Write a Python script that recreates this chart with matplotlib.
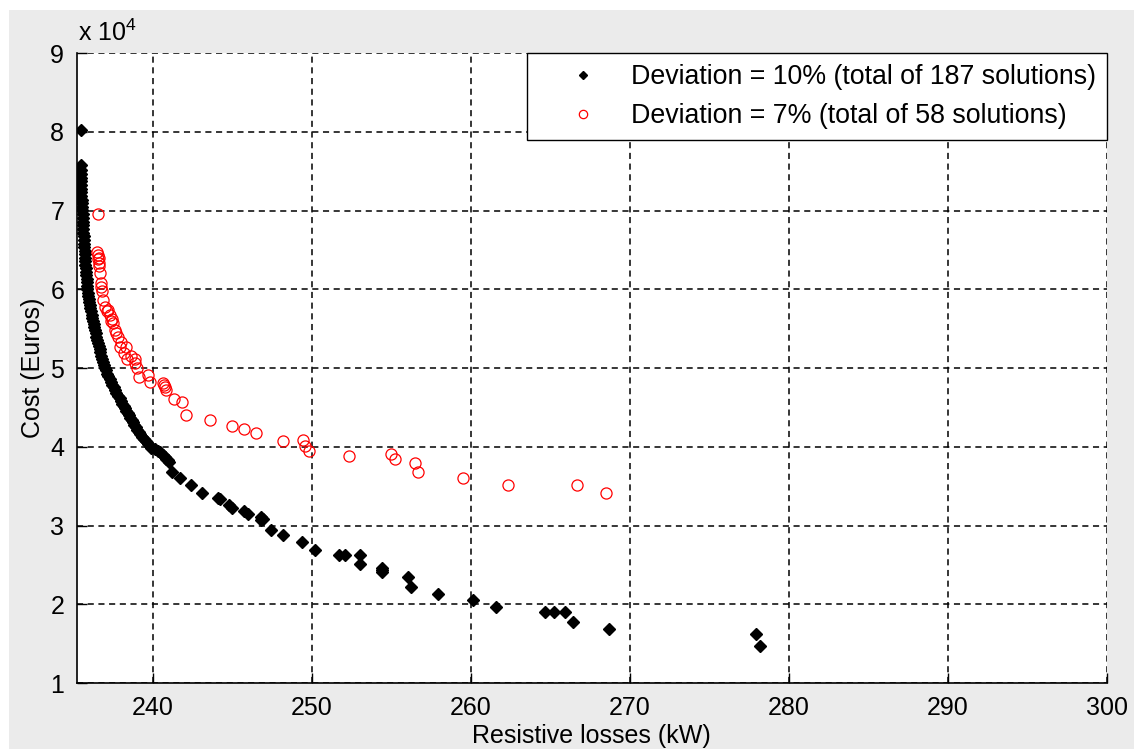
import matplotlib.pyplot as plt
from matplotlib.patches import Rectangle

plt.rcParams['font.family'] = ['Liberation Sans', 'DejaVu Sans']
plt.rcParams['mathtext.default'] = 'regular'

# Deviation = 10% solutions (resistive losses kW, cost in 1e4 Euros)
dev10_loss = [
    235.5,
    235.45, 235.45, 235.46, 235.47, 235.47, 235.48, 235.49, 235.5, 235.5, 235.52, 235.53, 235.55, 235.56,
    235.57, 235.58, 235.6, 235.61, 235.62, 235.63, 235.64, 235.66, 235.67, 235.68, 235.7, 235.71,
    235.72, 235.74, 235.75, 235.77, 235.78, 235.8, 235.82, 235.84, 235.86, 235.88,
    235.9, 235.93, 235.96, 235.99, 236.02, 236.06, 236.1, 236.14, 236.18, 236.22, 236.27, 236.31,
    236.35, 236.39, 236.44, 236.49, 236.54, 236.59, 236.64, 236.69, 236.75, 236.81, 236.87, 236.93, 237.0,
    237.05, 237.12, 237.2, 237.28, 237.36, 237.44, 237.52, 237.6, 237.7, 237.8, 237.9,
    238.0, 238.08, 238.16, 238.24, 238.32, 238.4, 238.48, 238.56, 238.65, 238.74,
    238.83, 238.92, 239.0, 239.1, 239.2, 239.3, 239.42, 239.54, 239.66, 239.8,
    239.9, 240.1, 240.3, 240.45, 240.6, 240.75, 240.85, 240.96, 241.0,
    241.2, 241.7, 242.4, 243.1, 244.1, 244.2, 244.8, 245.0, 245.7, 246.0, 246.8, 246.8, 246.9,
    247.4, 248.2, 249.4, 250.2, 251.7, 252.1, 253.0, 253.0, 254.4, 254.4, 254.4, 256.05, 256.2,
    257.9, 260.1, 261.6, 264.65, 265.2, 265.9, 266.4, 268.7, 277.9, 278.2,
]
dev10_cost = [
    8.02,
    7.58, 7.52, 7.47, 7.42, 7.38, 7.33, 7.28, 7.24, 7.19, 7.14, 7.10, 7.05, 7.01,
    6.96, 6.91, 6.86, 6.82, 6.77, 6.72, 6.68, 6.63, 6.58, 6.54, 6.49, 6.45,
    6.40, 6.36, 6.31, 6.27, 6.22, 6.18, 6.13, 6.09, 6.04, 6.00,
    5.96, 5.92, 5.88, 5.84, 5.80, 5.76, 5.72, 5.68, 5.64, 5.60, 5.56, 5.52,
    5.48, 5.44, 5.40, 5.36, 5.32, 5.28, 5.24, 5.20, 5.16, 5.12, 5.08, 5.04, 5.00,
    4.97, 4.93, 4.90, 4.86, 4.83, 4.79, 4.76, 4.72, 4.69, 4.65, 4.62,
    4.58, 4.55, 4.52, 4.49, 4.46, 4.43, 4.40, 4.37, 4.34, 4.31,
    4.28, 4.25, 4.22, 4.19, 4.16, 4.13, 4.10, 4.07, 4.04, 4.01,
    3.99, 3.97, 3.95, 3.93, 3.90, 3.87, 3.85, 3.83, 3.81,
    3.68, 3.61, 3.51, 3.42, 3.35, 3.34, 3.26, 3.23, 3.19, 3.15, 3.11, 3.07, 3.09,
    2.94, 2.88, 2.79, 2.69, 2.63, 2.63, 2.63, 2.51, 2.46, 2.43, 2.41, 2.35, 2.22,
    2.13, 2.05, 1.97, 1.90, 1.90, 1.90, 1.78, 1.69, 1.62, 1.47,
]

# Deviation = 7% solutions
dev7_loss = [
    236.56, 236.5, 236.52, 236.55, 236.58, 236.6, 236.62, 236.67, 236.7, 236.75, 236.8, 236.85,
    237.0, 237.1, 237.2, 237.3, 237.35, 237.4, 237.5, 237.6, 237.7, 237.8, 237.9, 238.0,
    238.3, 238.2, 238.35, 238.6, 238.9, 238.9, 239.0, 239.1, 239.7, 239.8, 240.6, 240.7,
    240.75, 240.85, 241.3, 241.8, 242.1, 243.6, 245.0, 245.7, 246.5, 248.2, 249.45, 249.55,
    249.8, 252.35, 255.0, 255.2, 256.5, 256.65, 259.5, 262.35, 266.65, 268.5,
]
dev7_cost = [
    6.96, 6.48, 6.44, 6.38, 6.33, 6.40, 6.30, 6.21, 6.08, 6.03, 5.98, 5.86,
    5.78, 5.72, 5.74, 5.67, 5.60, 5.63, 5.57, 5.49, 5.45, 5.40, 5.27, 5.33,
    5.27, 5.19, 5.12, 5.15, 5.12, 5.06, 5.00, 4.89, 4.91, 4.83, 4.81, 4.78,
    4.76, 4.72, 4.61, 4.57, 4.41, 4.34, 4.27, 4.23, 4.18, 4.08, 4.09, 4.01,
    3.95, 3.89, 3.91, 3.84, 3.80, 3.68, 3.61, 3.51, 3.51, 3.42,
]

labels = ['Deviation = 10% (total of 187 solutions)',
          'Deviation = 7% (total of 58 solutions)']

fig = plt.figure(figsize=(11.34, 7.49), dpi=100, facecolor='white')
fig.patches.append(Rectangle((9 / 1134, 0), 1, 739 / 749, transform=fig.transFigure,
                             facecolor='#ebebeb', edgecolor='none', zorder=-10))

ax = fig.add_axes([0.0676, 0.088, 0.9086, 0.841])
ax.plot(dev10_loss, dev10_cost, linestyle='none', marker='D', ms=6, color='k',
        mec='k', label=labels[0], zorder=3)
ax.plot(dev7_loss, dev7_cost, linestyle='none', marker='o', ms=8, mfc='none',
        mec='red', mew=0.9, label=labels[1], zorder=4)

ax.set_xlim(235.2, 300)
ax.set_ylim(1, 9)
ax.set_xticks(range(240, 301, 10))
ax.set_yticks(range(1, 10))
ax.grid(True, color='k', linestyle=(0, (4, 3)), linewidth=1.1)
for s in ['top', 'right']:
    ax.spines[s].set_visible(False)
for s in ['left', 'bottom']:
    ax.spines[s].set_linewidth(1.2)
ax.tick_params(direction='in', length=7, width=1, labelsize=18, pad=9)

ax.text(0.001, 1.012, r'x 10$^4$', transform=ax.transAxes, fontsize=18, va='bottom')
ax.set_xlabel('Resistive losses (kW)', fontsize=18, labelpad=3)
ax.set_ylabel('Cost (Euros)', fontsize=18, labelpad=4)

leg = ax.legend(loc='upper right', bbox_to_anchor=(1.0, 1.0), borderaxespad=0,
                fontsize=19.3, markerscale=0.75, fancybox=False, framealpha=1,
                edgecolor='k', handlelength=3.4, handletextpad=0.1,
                labelspacing=0.5, borderpad=0.4)
leg.get_frame().set_linewidth(1)

fig.savefig('out.png', dpi=100, facecolor=fig.get_facecolor())
